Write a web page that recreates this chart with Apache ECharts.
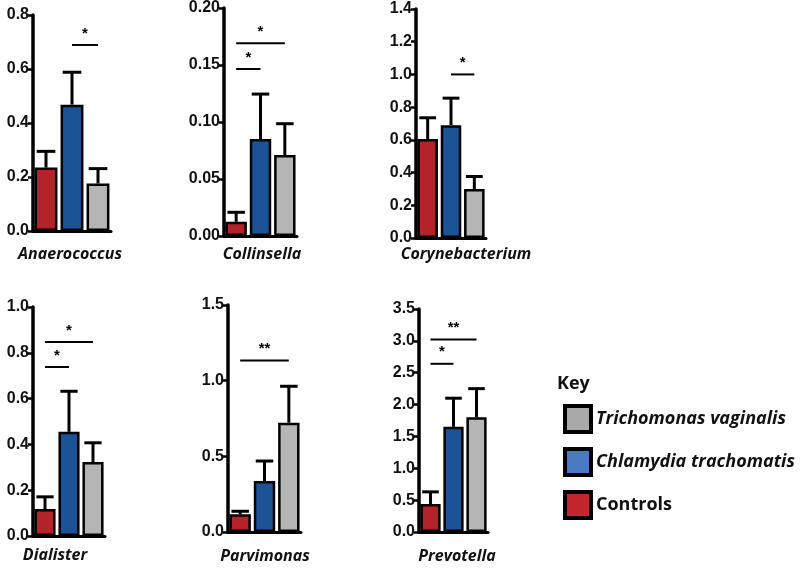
<!DOCTYPE html>
<html>
<head>
<meta charset="utf-8">
<script src="https://cdn.jsdelivr.net/npm/echarts@6/dist/echarts.min.js"></script>
<style>
html,body{margin:0;padding:0;background:#fff;}
#chart{width:800px;height:569px;}
</style>
</head>
<body>
<div id="chart"></div>
<script>
// ---- data ----
const groups = ['Controls', 'Chlamydia trachomatis', 'Trichomonas vaginalis'];
const genera = ['Anaerococcus', 'Collinsella', 'Corynebacterium', 'Dialister', 'Parvimonas', 'Prevotella'];
const controlsMean = [0.235, 0.0125, 0.605, 0.118, 0.117, 0.44];
const controlsErr = [0.06, 0.0083, 0.13, 0.053, 0.02, 0.19];
const chlamydiaMean = [0.468, 0.085, 0.69, 0.455, 0.337, 1.65];
const chlamydiaErr = [0.12, 0.0395, 0.165, 0.177, 0.132, 0.45];
const trichomonasMean = [0.176, 0.071, 0.30, 0.323, 0.722, 1.80];
const trichomonasErr = [0.055, 0.0275, 0.076, 0.084, 0.241, 0.45];
const yMax = [0.8, 0.2, 1.4, 1.0, 1.5, 3.5];
const yStep = [0.2, 0.05, 0.2, 0.2, 0.5, 0.5];
const yDecimals = [1, 2, 1, 1, 1, 1];
// significance brackets: [fromGroup, toGroup, yValue]
const sigLines = [
  [[1, 2, 0.689]],
  [[0, 1, 0.1465], [0, 2, 0.169]],
  [[1, 2, 1.0]],
  [[0, 1, 0.738], [0, 2, 0.847]],
  [[0, 2, 1.134]],
  [[0, 1, 2.64], [0, 2, 3.02]]
];
const sigLabels = [
  ['*'],
  ['*', '*'],
  ['*'],
  ['*', '*'],
  ['**'],
  ['*', '**']
];

// ---- layout / style ----
const grids = [
  {left: 33, top: 15, width: 78, height: 216},
  {left: 224, top: 8, width: 73, height: 228},
  {left: 416, top: 9, width: 70, height: 229},
  {left: 33, top: 307, width: 72, height: 229},
  {left: 228, top: 305, width: 73, height: 227},
  {left: 419, top: 309, width: 69, height: 223}
];
const nameCenters = [[70, 254], [262, 254], [466, 254], [55, 555], [265, 556], [457, 556]];
const barColors = ['#B4232A', '#1C5396', '#B5B5B5'];
const legendColors = ['#C4262E', '#4A79C0', '#A9A9A9'];
const means = [controlsMean, chlamydiaMean, trichomonasMean];
const errs = [controlsErr, chlamydiaErr, trichomonasErr];

const xAxes = [], yAxes = [], series = [], graphics = [];
genera.forEach((g, p) => {
  xAxes.push({
    type: 'category', gridIndex: p, data: groups,
    axisLine: {show: true, lineStyle: {color: '#000', width: 3}},
    axisTick: {show: false}, axisLabel: {show: false}
  });
  yAxes.push({
    type: 'value', gridIndex: p, min: 0, max: yMax[p], interval: yStep[p],
    axisLine: {show: true, lineStyle: {color: '#000', width: 3.5}},
    axisTick: {show: true, length: 5, lineStyle: {color: '#000', width: 2.5}},
    splitLine: {show: false},
    axisLabel: {
      color: '#111', fontFamily: 'Liberation Sans', fontWeight: 'bold', fontSize: 16, margin: 4,
      formatter: v => v.toFixed(yDecimals[p])
    }
  });
  groups.forEach((grp, gi) => {
    const d = groups.map((_, k) => k === gi ? means[gi][p] : null);
    series.push({
      type: 'bar', name: grp, xAxisIndex: p, yAxisIndex: p, data: d,
      barWidth: '88%', barGap: '-100%',
      itemStyle: {color: barColors[gi], borderColor: '#000', borderWidth: 2.5},
      z: 2
    });
  });
  // error bars
  series.push({
    type: 'custom', name: 'err' + p, xAxisIndex: p, yAxisIndex: p, z: 3,
    data: groups.map((_, gi) => [gi, means[gi][p], errs[gi][p]]),
    renderItem: (params, api) => {
      const x = api.value(0), m = api.value(1), e = api.value(2);
      const a = api.coord([x, m]), b = api.coord([x, m + e]);
      const hw = api.size([1, 0])[0] * 0.36;
      return {type: 'group', children: [
        {type: 'line', shape: {x1: a[0], y1: a[1], x2: b[0], y2: b[1]}, style: {stroke: '#000', lineWidth: 3}},
        {type: 'line', shape: {x1: b[0] - hw, y1: b[1], x2: b[0] + hw, y2: b[1]}, style: {stroke: '#000', lineWidth: 3}}
      ]};
    }
  });
  // significance
  series.push({
    type: 'custom', name: 'sig' + p, xAxisIndex: p, yAxisIndex: p, z: 3,
    data: sigLines[p],
    renderItem: (params, api) => {
      const a = api.coord([api.value(0), api.value(2)]);
      const b = api.coord([api.value(1), api.value(2)]);
      return {type: 'group', children: [
        {type: 'line', shape: {x1: a[0], y1: a[1], x2: b[0], y2: b[1]}, style: {stroke: '#000', lineWidth: 2}},
        {type: 'text', x: (a[0] + b[0]) / 2, y: a[1] - 4, style: {
          text: sigLabels[p][params.dataIndex], fill: '#000', align: 'center', verticalAlign: 'bottom',
          font: 'bold 15px "Liberation Sans"'
        }}
      ]};
    }
  });
  graphics.push({
    type: 'text', x: nameCenters[p][0], y: nameCenters[p][1],
    style: {text: g, fill: '#111', align: 'center', verticalAlign: 'middle',
      font: 'italic bold 16px "Open Sans"'}
  });
});

const chart = echarts.init(document.getElementById('chart'), null, {renderer: 'canvas'});
chart.setOption({
  animation: false,
  backgroundColor: '#fff',
  title: {text: 'Key', left: 552, top: 370, textStyle: {fontFamily: 'Open Sans', fontWeight: 'bold', fontSize: 18, color: '#111'}},
  legend: {
    orient: 'vertical', left: 558, top: 399, itemWidth: 26, itemHeight: 26, itemGap: 13, itemTextGap: 15,
    icon: 'rect',
    selectedMode: false,
    data: [
      {name: groups[2], itemStyle: {color: legendColors[2], borderColor: '#000', borderWidth: 4}, textStyle: {fontStyle: 'italic'}},
      {name: groups[1], itemStyle: {color: legendColors[1], borderColor: '#000', borderWidth: 4}, textStyle: {fontStyle: 'italic'}},
      {name: groups[0], itemStyle: {color: legendColors[0], borderColor: '#000', borderWidth: 4}, textStyle: {fontStyle: 'normal'}}
    ],
    textStyle: {fontFamily: 'Open Sans', fontWeight: 'bold', fontSize: 18, color: '#111'}
  },
  grid: grids,
  xAxis: xAxes,
  yAxis: yAxes,
  series: series,
  graphic: graphics
});
</script>
</body>
</html>
